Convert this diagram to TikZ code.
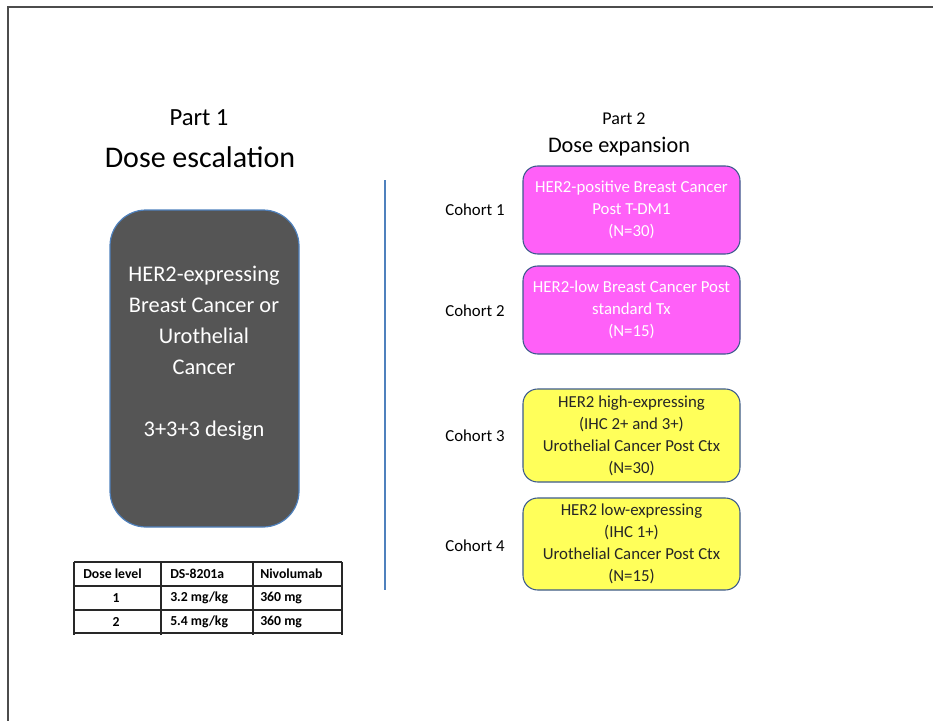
\documentclass[tikz,border=0pt]{standalone}
\usepackage{fontspec}
\setmainfont{Carlito}
\definecolor{gbox}{RGB}{85,85,85}
\definecolor{mbox}{RGB}{255,96,248}
\definecolor{ybox}{RGB}{255,255,90}
\definecolor{bord}{RGB}{60,90,140}
\definecolor{vline}{RGB}{79,129,189}
\definecolor{tline}{RGB}{40,40,40}
\begin{document}
\begin{tikzpicture}[x=0.75pt,y=-0.75pt,
  cohortbox/.style={draw=bord,line width=0.8pt,rounded corners=11pt,minimum width=162.75pt,minimum height=66pt,align=center,font=\fontsize{12.6}{16.5}\selectfont,inner sep=0pt},
  pinkbox/.style={cohortbox,fill=mbox,text=white},
  yelbox/.style={cohortbox,fill=ybox,text=black!85},
  cohortlbl/.style={font=\fontsize{12.6}{14}\selectfont,anchor=center},
  tcell/.style={font=\bfseries\fontsize{10.3}{12}\selectfont,anchor=west,inner sep=0pt},
  tgrid/.style={draw=tline,line width=1.4pt}]
\useasboundingbox (0,0) rectangle (933,721);
% frame
\draw[draw=black!70,line width=1.3pt] (8,721) -- (8,7) -- (933,7);
% Part 1
\node (p1) at (199,118) {\fontsize{18.5}{20}\selectfont Part 1};
\node (de) at (200,157) {\fontsize{22.5}{25}\selectfont Dose escalation};
\node[draw=vline,line width=0.9pt,fill=gbox,rounded corners=27pt,minimum width=141.75pt,minimum height=237.75pt,inner sep=0pt] (gb) at (204.5,368.5) {};
\node[align=center,text=white,font=\fontsize{16.8}{23.25}\selectfont,inner sep=0pt] (gt) at (204,353) {HER2-expressing\\Breast Cancer or\\Urothelial\\Cancer\\[23.25pt]3+3+3 design};
% divider
\coordinate (vt) at (385,180);
\coordinate (vb) at (385,590);
\draw[vline,line width=0.9pt] (vt) -- (vb);
% Part 2
\node (p2) at (624,119) {\fontsize{13.5}{15}\selectfont Part 2};
\node (dx) at (619,147) {\fontsize{16.7}{19}\selectfont Dose expansion};
\node[cohortlbl] (c1) at (475,210) {Cohort 1};
\node[cohortlbl] (c2) at (475,311) {Cohort 2};
\node[cohortlbl] (c3) at (475,436) {Cohort 3};
\node[cohortlbl] (c4) at (475,546) {Cohort 4};
\node[pinkbox] (b1) at (631.5,210) {HER2-positive Breast Cancer\\Post T-DM1\\(N=30)};
\node[pinkbox] (b2) at (631.5,310) {HER2-low Breast Cancer Post\\standard Tx\\(N=15)};
\node[yelbox,minimum height=69.75pt] (b3) at (631.5,435.5) {HER2 high-expressing\\(IHC 2+ and 3+)\\Urothelial Cancer Post Ctx\\(N=30)};
\node[yelbox,minimum height=69pt] (b4) at (631.5,544) {HER2 low-expressing\\(IHC 1+)\\Urothelial Cancer Post Ctx\\(N=15)};
% table
\draw[tgrid] (74,562) -- (342,562);
\draw[tgrid] (74,586) -- (342,586);
\draw[tgrid] (74,610) -- (342,610);
\draw[tgrid] (74,633) -- (342,633);
\draw[tgrid] (74,562) -- (74,635);
\draw[tgrid] (161,562) -- (161,635);
\draw[tgrid] (253,562) -- (253,635);
\draw[tgrid] (342,562) -- (342,635);
\node[tcell] (t11) at (83,574) {Dose level};
\node[tcell] (t12) at (170,574) {DS-8201a};
\node[tcell] (t13) at (260,574) {Nivolumab};
\node[tcell,anchor=center] (t21) at (116,598) {1};
\node[tcell] (t22) at (170,598) {3.2 mg/kg};
\node[tcell] (t23) at (260,598) {360 mg};
\node[tcell,anchor=center] (t31) at (116,622) {2};
\node[tcell] (t32) at (170,622) {5.4 mg/kg};
\node[tcell] (t33) at (260,622) {360 mg};
\end{tikzpicture}
\end{document}
